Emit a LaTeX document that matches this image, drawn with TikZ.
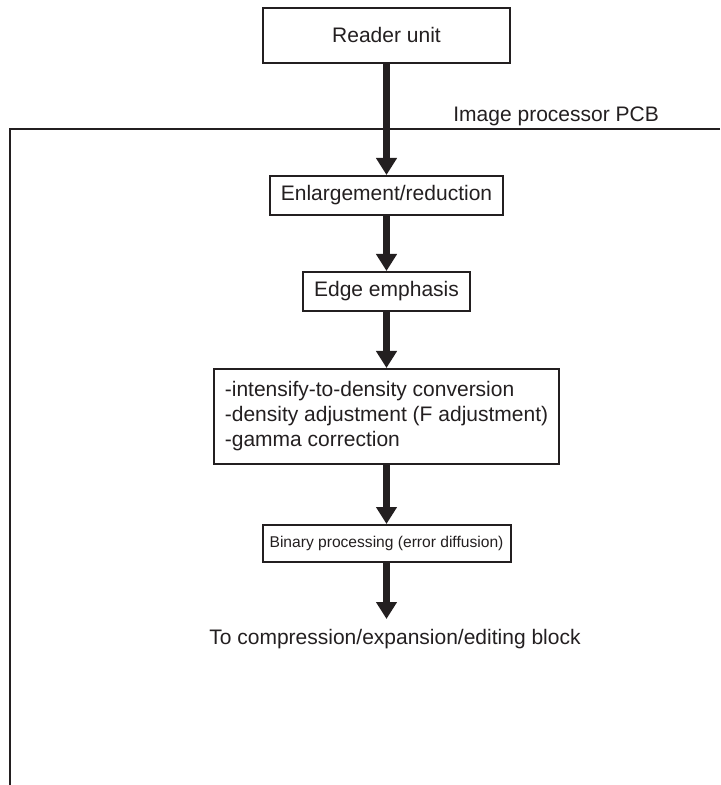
\documentclass[tikz,border=0pt]{standalone}
\usepackage{fontspec}
\setmainfont{Liberation Sans}
\usetikzlibrary{positioning,arrows.meta}
\definecolor{ink}{HTML}{231F20}

\begin{document}
\begin{tikzpicture}[x=1pt, y=1pt,
every node/.style={align=center, text=ink, font=\fontsize{10.5pt}{12.5pt}\selectfont},
blk/.style={draw=ink, line width=1pt, inner xsep=5.5pt, minimum height=19.5pt},
flow/.style={draw=ink, line width=3.5pt, -{Triangle[width=10pt,length=8.5pt]}}]

\useasboundingbox (0,0) rectangle (360,-392.5);

\node[blk, minimum width=123.5pt, minimum height=27.5pt] (reader) at (193.25,-17.75) {Reader unit};
\node[blk] (enlarge) [below=55.5pt of reader] {Enlargement/reduction};
\node[blk] (edge) [below=27.5pt of enlarge] {Edge emphasis};
\node[blk, align=left, minimum width=172pt, minimum height=47.5pt] (density) [below=28pt of edge] {-intensify-to-density conversion\\-density adjustment (F adjustment)\\-gamma correction};
\node[blk, minimum width=124pt, minimum height=18.5pt, inner xsep=3.5pt, font=\fontsize{7.8pt}{9pt}\selectfont] (binary) [below=29.5pt of density] {Binary processing (error diffusion)};
\node[inner sep=5pt] (out) [below=28pt of binary, xshift=4.25pt] {To compression/expansion/editing block};

% PCB frame
\coordinate (pcbcorner) at (5,-64.5);
\draw[ink, line width=1pt] (360,-64.5) -- (pcbcorner) -- (5,-392.5);
\node[inner sep=0pt, anchor=base west] (pcb) at (226.5,-61) {Image processor PCB};

\draw[flow] (reader) -- (enlarge);
\draw[flow] (enlarge) -- (edge);
\draw[flow] (edge) -- (density);
\draw[flow] (density) -- (binary);
\draw[flow] (binary) -- (binary |- out.north);

\end{tikzpicture}
\end{document}
